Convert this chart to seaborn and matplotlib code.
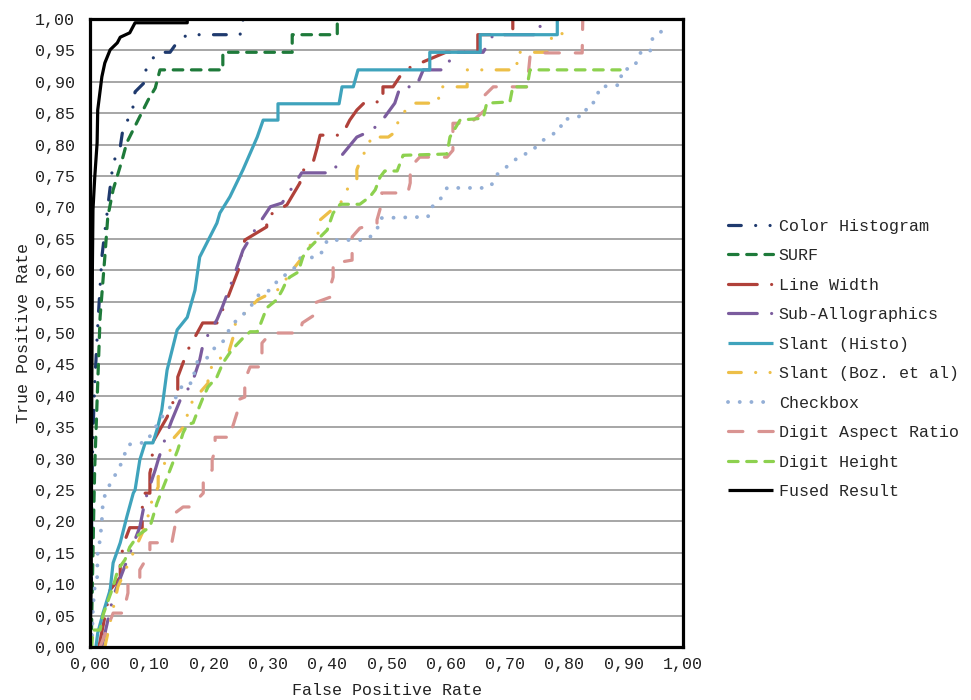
import matplotlib
matplotlib.use("Agg")
import matplotlib.pyplot as plt
import seaborn as sns
import pandas as pd

# ---------------- data (FPR, TPR) ----------------
series_names = ["Color Histogram", "SURF", "Line Width", "Sub-Allographics",
                "Slant (Histo)", "Slant (Boz. et al)", "Checkbox",
                "Digit Aspect Ratio", "Digit Height", "Fused Result"]

color_histogram = [(0.002, 0.0), (0.003, 0.25), (0.005, 0.341), (0.008, 0.42), (0.013, 0.51),
                   (0.02, 0.621), (0.034, 0.732), (0.039, 0.771), (0.051, 0.796), (0.056, 0.828),
                   (0.071, 0.85), (0.076, 0.884), (0.093, 0.9), (0.093, 0.916), (0.101, 0.932),
                   (0.115, 0.947), (0.135, 0.947), (0.147, 0.963), (0.164, 0.975), (0.253, 0.975),
                   (0.258, 0.992), (0.258, 1.0), (1.0, 1.0)]

surf = [(0.002, 0.0), (0.003, 0.05), (0.006, 0.2), (0.008, 0.287), (0.012, 0.393), (0.017, 0.525),
        (0.025, 0.621), (0.03, 0.685), (0.039, 0.728), (0.054, 0.775), (0.062, 0.803), (0.081, 0.839),
        (0.098, 0.871), (0.11, 0.89), (0.118, 0.919), (0.224, 0.919), (0.224, 0.947), (0.341, 0.947),
        (0.341, 0.975), (0.417, 0.975), (0.417, 1.0), (1.0, 1.0)]

line_width = [(0.015, 0.0), (0.034, 0.091), (0.051, 0.111), (0.051, 0.139), (0.059, 0.17), (0.067, 0.19),
              (0.088, 0.19), (0.088, 0.221), (0.093, 0.245), (0.101, 0.245), (0.101, 0.277), (0.105, 0.293),
              (0.105, 0.325), (0.13, 0.366), (0.148, 0.409), (0.148, 0.43), (0.165, 0.473), (0.19, 0.516),
              (0.214, 0.516), (0.231, 0.553), (0.25, 0.6), (0.261, 0.648), (0.298, 0.669), (0.298, 0.685),
              (0.332, 0.704), (0.354, 0.739), (0.354, 0.755), (0.376, 0.771), (0.383, 0.795), (0.388, 0.815),
              (0.425, 0.815), (0.438, 0.839), (0.45, 0.855), (0.464, 0.868), (0.494, 0.868), (0.494, 0.892),
              (0.511, 0.892), (0.53, 0.919), (0.6, 0.947), (0.654, 0.947), (0.654, 0.975), (0.713, 0.975),
              (0.713, 1.0), (1.0, 1.0)]

sub_allographics = [(0.02, 0.0), (0.039, 0.08), (0.084, 0.191), (0.093, 0.234), (0.11, 0.282), (0.115, 0.298),
                    (0.13, 0.341), (0.138, 0.361), (0.152, 0.393), (0.172, 0.42), (0.185, 0.457), (0.191, 0.484),
                    (0.214, 0.521), (0.223, 0.541), (0.239, 0.581), (0.248, 0.605), (0.258, 0.632), (0.278, 0.664),
                    (0.304, 0.701), (0.324, 0.707), (0.357, 0.755), (0.41, 0.755), (0.422, 0.78), (0.45, 0.812),
                    (0.476, 0.823), (0.497, 0.844), (0.514, 0.866), (0.523, 0.892), (0.55, 0.892), (0.562, 0.919),
                    (0.6, 0.919), (0.612, 0.947), (0.663, 0.947), (0.68, 0.975), (0.759, 0.975), (0.759, 1.0),
                    (1.0, 1.0)]

slant_histo = [(0.01, 0.0), (0.013, 0.022), (0.022, 0.054), (0.034, 0.091), (0.039, 0.134), (0.051, 0.166),
               (0.062, 0.207), (0.073, 0.245), (0.076, 0.25), (0.084, 0.298), (0.093, 0.325), (0.106, 0.325),
               (0.113, 0.346), (0.121, 0.377), (0.13, 0.441), (0.147, 0.505), (0.164, 0.525), (0.177, 0.568),
               (0.185, 0.621), (0.214, 0.675), (0.219, 0.691), (0.236, 0.717), (0.258, 0.76), (0.282, 0.812),
               (0.292, 0.839), (0.317, 0.839), (0.317, 0.865), (0.42, 0.865), (0.425, 0.892), (0.444, 0.892),
               (0.452, 0.919), (0.573, 0.919), (0.573, 0.947), (0.658, 0.947), (0.658, 0.975), (0.788, 0.975),
               (0.788, 1.0), (1.0, 1.0)]

slant_boz = [(0.025, 0.0), (0.047, 0.096), (0.098, 0.202), (0.098, 0.218), (0.115, 0.255), (0.115, 0.271),
             (0.126, 0.293), (0.135, 0.309), (0.135, 0.326), (0.164, 0.357), (0.164, 0.377), (0.174, 0.393),
             (0.199, 0.42), (0.199, 0.436), (0.214, 0.46), (0.231, 0.46), (0.245, 0.505), (0.245, 0.516),
             (0.283, 0.553), (0.325, 0.573), (0.332, 0.589), (0.357, 0.619), (0.388, 0.664), (0.388, 0.68),
             (0.425, 0.71), (0.435, 0.731), (0.45, 0.744), (0.45, 0.76), (0.459, 0.783), (0.472, 0.796),
             (0.472, 0.812), (0.503, 0.812), (0.519, 0.823), (0.519, 0.842), (0.545, 0.866), (0.587, 0.866),
             (0.59, 0.892), (0.636, 0.892), (0.636, 0.919), (0.72, 0.919), (0.72, 0.947), (0.771, 0.947),
             (0.78, 0.975), (0.796, 0.975), (0.796, 1.0), (1.0, 1.0)]

checkbox = [(0.003, 0.0), (0.005, 0.064), (0.008, 0.096), (0.012, 0.11), (0.013, 0.154), (0.017, 0.17),
            (0.02, 0.202), (0.022, 0.234), (0.029, 0.25), (0.037, 0.266), (0.046, 0.279), (0.054, 0.295),
            (0.064, 0.322), (0.079, 0.325), (0.093, 0.325), (0.105, 0.341), (0.113, 0.354), (0.121, 0.366),
            (0.132, 0.377), (0.14, 0.39), (0.152, 0.409), (0.157, 0.42), (0.172, 0.42), (0.177, 0.441),
            (0.182, 0.457), (0.197, 0.46), (0.214, 0.481), (0.224, 0.486), (0.239, 0.513), (0.258, 0.529),
            (0.27, 0.541), (0.287, 0.564), (0.304, 0.568), (0.32, 0.588), (0.337, 0.596), (0.346, 0.605),
            (0.354, 0.619), (0.384, 0.621), (0.393, 0.631), (0.4, 0.648), (0.467, 0.648), (0.484, 0.664),
            (0.489, 0.683), (0.57, 0.685), (0.573, 0.699), (0.587, 0.707), (0.595, 0.72), (0.602, 0.731),
            (0.671, 0.731), (0.68, 0.739), (0.686, 0.752), (0.696, 0.76), (0.713, 0.772), (0.725, 0.783),
            (0.742, 0.787), (0.759, 0.803), (0.771, 0.812), (0.793, 0.823), (0.796, 0.839), (0.835, 0.847),
            (0.838, 0.863), (0.852, 0.868), (0.86, 0.892), (0.894, 0.895), (0.897, 0.919), (0.916, 0.922),
            (0.922, 0.932), (0.927, 0.946), (0.944, 0.946), (0.949, 0.971), (0.973, 0.986)]

digit_aspect_ratio = [(0.017, 0.0), (0.039, 0.054), (0.056, 0.054), (0.064, 0.086), (0.064, 0.104),
                      (0.084, 0.111), (0.084, 0.123), (0.101, 0.15), (0.101, 0.166), (0.138, 0.166),
                      (0.143, 0.191), (0.143, 0.213), (0.157, 0.223), (0.169, 0.223), (0.191, 0.245),
                      (0.191, 0.266), (0.206, 0.282), (0.206, 0.298), (0.211, 0.314), (0.211, 0.334),
                      (0.239, 0.334), (0.239, 0.346), (0.248, 0.373), (0.248, 0.393), (0.261, 0.398),
                      (0.261, 0.425), (0.27, 0.446), (0.287, 0.446), (0.29, 0.462), (0.29, 0.484),
                      (0.305, 0.5), (0.354, 0.5), (0.358, 0.516), (0.379, 0.529), (0.379, 0.548),
                      (0.405, 0.557), (0.405, 0.573), (0.41, 0.589), (0.41, 0.611), (0.442, 0.616),
                      (0.442, 0.653), (0.455, 0.667), (0.484, 0.675), (0.484, 0.68), (0.492, 0.707),
                      (0.492, 0.723), (0.536, 0.723), (0.54, 0.739), (0.54, 0.764), (0.556, 0.78),
                      (0.602, 0.78), (0.612, 0.791), (0.612, 0.834), (0.641, 0.834), (0.666, 0.855),
                      (0.666, 0.879), (0.68, 0.892), (0.737, 0.892), (0.742, 0.94), (0.759, 0.946),
                      (0.83, 0.946), (0.831, 1.0), (1.0, 1.0)]

digit_height = [(0.003, 0.0), (0.005, 0.027), (0.017, 0.027), (0.022, 0.051), (0.029, 0.07), (0.039, 0.096),
                (0.047, 0.123), (0.059, 0.139), (0.067, 0.159), (0.081, 0.178), (0.101, 0.191), (0.113, 0.229),
                (0.125, 0.258), (0.135, 0.282), (0.148, 0.314), (0.157, 0.341), (0.164, 0.354), (0.174, 0.357),
                (0.182, 0.377), (0.191, 0.398), (0.199, 0.414), (0.214, 0.43), (0.224, 0.452), (0.239, 0.473),
                (0.258, 0.492), (0.27, 0.502), (0.282, 0.502), (0.287, 0.513), (0.298, 0.54), (0.315, 0.553),
                (0.324, 0.568), (0.332, 0.584), (0.337, 0.589), (0.351, 0.597), (0.359, 0.621), (0.366, 0.632),
                (0.383, 0.648), (0.4, 0.664), (0.41, 0.691), (0.422, 0.705), (0.455, 0.705), (0.472, 0.717),
                (0.481, 0.728), (0.489, 0.748), (0.497, 0.758), (0.518, 0.758), (0.528, 0.783), (0.602, 0.785),
                (0.607, 0.812), (0.624, 0.839), (0.663, 0.842), (0.669, 0.866), (0.708, 0.868), (0.713, 0.892),
                (0.737, 0.892), (0.742, 0.919), (0.894, 0.919)]

fused_result = [(0.0, 0.0), (0.002, 0.1), (0.003, 0.4), (0.004, 0.6), (0.005, 0.696), (0.008, 0.748),
                (0.012, 0.803), (0.013, 0.855), (0.02, 0.908), (0.025, 0.93), (0.034, 0.951), (0.046, 0.962),
                (0.051, 0.971), (0.067, 0.978), (0.076, 0.994), (0.164, 0.994), (0.164, 1.0), (1.0, 1.0)]

x_ticks = [0.0, 0.1, 0.2, 0.3, 0.4, 0.5, 0.6, 0.7, 0.8, 0.9, 1.0]
x_tick_labels = ["0,00", "0,10", "0,20", "0,30", "0,40", "0,50", "0,60", "0,70", "0,80", "0,90", "1,00"]
y_ticks = [0.0, 0.05, 0.1, 0.15, 0.2, 0.25, 0.3, 0.35, 0.4, 0.45, 0.5, 0.55, 0.6, 0.65, 0.7, 0.75,
           0.8, 0.85, 0.9, 0.95, 1.0]
y_tick_labels = ["0,00", "0,05", "0,10", "0,15", "0,20", "0,25", "0,30", "0,35", "0,40", "0,45", "0,50",
                 "0,55", "0,60", "0,65", "0,70", "0,75", "0,80", "0,85", "0,90", "0,95", "1,00"]

series_data = [color_histogram, surf, line_width, sub_allographics, slant_histo, slant_boz,
               checkbox, digit_aspect_ratio, digit_height, fused_result]

# ---------------- styles ----------------
colors = ["#1F3A6E", "#1E7A3A", "#B0413A", "#7B5C9E", "#3FA3BC", "#EDBF48",
          "#94AFD6", "#D99492", "#8DD14F", "#000000"]
dash_dot_dot = (0, (4, 4.5, 0.01, 4.5, 0.01, 4.5))
long_dash_dot = (0, (9, 4.5, 0.01, 4.5))
short_dash = (0, (3, 2.7))
round_dot = (0, (0.01, 3.0))
long_dash = (0, (4.5, 5))
styles = [dash_dot_dot, short_dash, long_dash_dot, long_dash_dot, "-", dash_dot_dot,
          round_dot, long_dash, short_dash, "-"]
widths = [2.3, 2.3, 2.3, 2.3, 2.3, 2.3, 2.8, 2.3, 2.3, 2.3]

sns.set_theme(style="white")
plt.rcParams["font.family"] = ["Liberation Mono", "DejaVu Sans Mono", "DejaVu Sans"]

fig = plt.figure(figsize=(9.71, 7.0), dpi=100)
ax = fig.add_axes([90 / 971, 1 - 647 / 700, (683 - 90) / 971, (647 - 19) / 700])

for name, pts, col, ls, lw in zip(series_names, series_data, colors, styles, widths):
    df = pd.DataFrame(pts, columns=["fpr", "tpr"])
    sns.lineplot(data=df, x="fpr", y="tpr", sort=False, estimator=None, ax=ax,
                 color=col, linewidth=lw, linestyle=ls, label=name, legend=False,
                 dash_capstyle="round", solid_capstyle="butt")

ax.set_xlim(0, 1)
ax.set_ylim(0, 1)
ax.set_xticks(x_ticks)
ax.set_xticklabels(x_tick_labels)
ax.set_yticks(y_ticks)
ax.set_yticklabels(y_tick_labels)
ax.tick_params(axis="both", length=0, labelsize=12, colors="#222222")
ax.tick_params(axis="x", pad=7)
ax.tick_params(axis="y", pad=11)

ax.grid(False)
for yv in y_ticks[1:-1]:
    ax.axhline(yv, color="#A6A6A6", linewidth=1.4, zorder=0)

for sp in ax.spines.values():
    sp.set_color("black")
    sp.set_linewidth(2.3)
    sp.set_visible(True)

ax.set_xlabel("False Positive Rate", fontsize=12, labelpad=8, color="#222222")
ax.set_ylabel("True Positive Rate", fontsize=12, labelpad=3, color="#222222")

handles, labels = ax.get_legend_handles_labels()
fig.legend(handles, labels, loc="center left", bbox_to_anchor=(728 / 971, 1 - 359 / 700),
           frameon=False, fontsize=12, handlelength=2.7, handletextpad=0.35,
           labelspacing=0.87, borderpad=0, borderaxespad=0)

fig.savefig("out.png", dpi=100)
